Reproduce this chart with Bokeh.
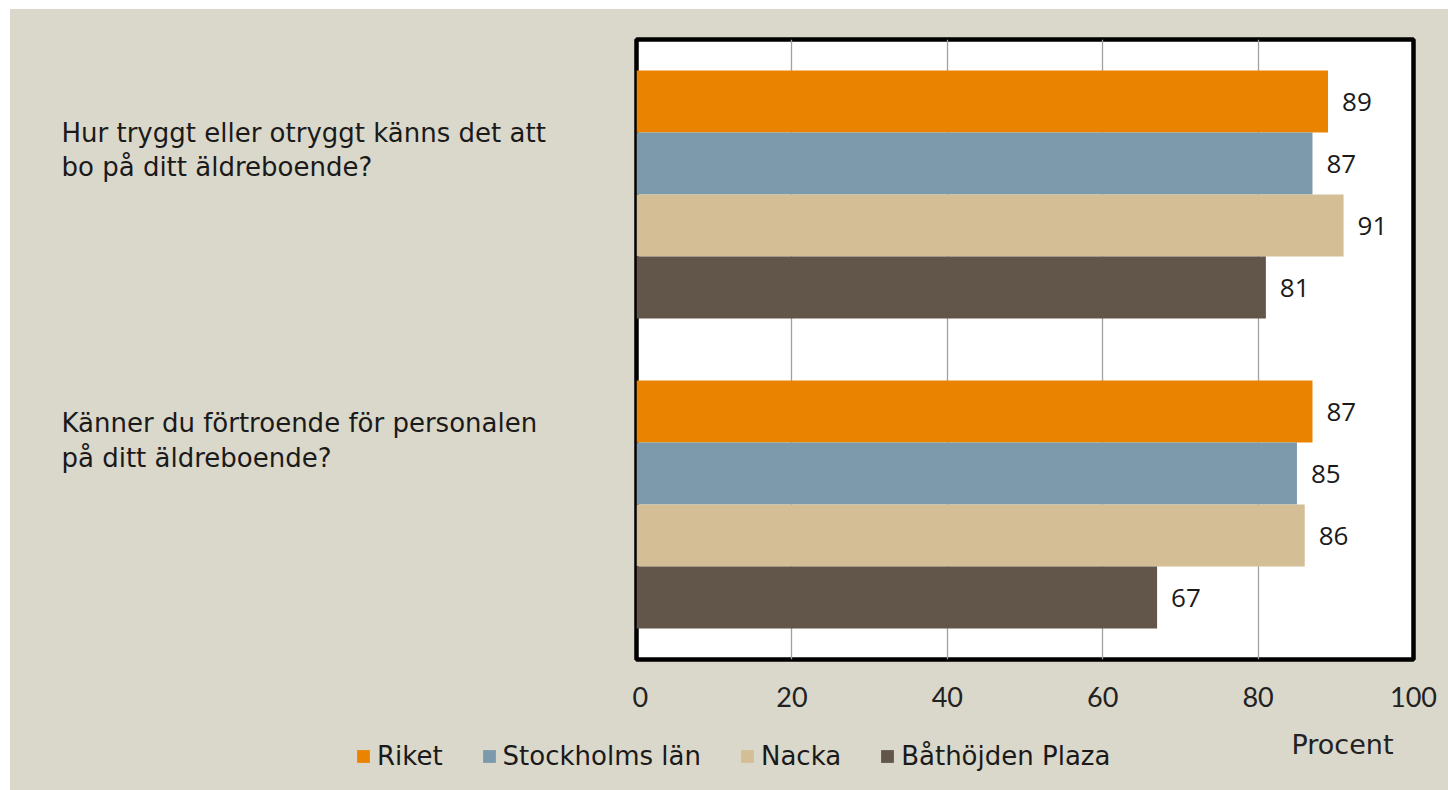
from bokeh.plotting import figure
from bokeh.models import ColumnDataSource, Range1d, FixedTicker
from bokeh.layouts import row, column
from bokeh.core.properties import value
from bokeh.embed import file_html
from bokeh.resources import INLINE

questions = [
    ["Hur tryggt eller otryggt känns det att", "bo på ditt äldreboende?"],
    ["Känner du förtroende för personalen", "på ditt äldreboende?"],
]
series = ["Riket", "Stockholms län", "Nacka", "Båthöjden Plaza"]
riket = [89, 87]
stockholms_lan = [87, 85]
nacka = [91, 86]
bathojden = [81, 67]
x_ticks = [0, 20, 40, 60, 80, 100]
x_title = "Procent"

series_values = [riket, stockholms_lan, nacka, bathojden]
colors = ["#EA8400", "#7D9AAD", "#D4BE95", "#62554A"]

BG = "#DAD7CB"
FONT = "DejaVu Sans"
TICK_FONT = "Lato"
TXT = "#1a1a1a"

MB_TOP, MB_BOT = 30, 61
FRAME_H = 620
TOP_H = MB_TOP + FRAME_H + MB_BOT
MAIN_W = 816
LEFT_W = 622
TOTAL_W = LEFT_W + MAIN_W
BOT_H = 70


def blank_fig(w, h, top=0, bottom=0):
    f = figure(width=w, height=h, output_backend="svg", toolbar_location=None,
               x_range=Range1d(0, w), y_range=Range1d(h - top - bottom, 0),
               min_border_left=0, min_border_right=0,
               min_border_top=top, min_border_bottom=bottom,
               x_axis_location=None, y_axis_location=None)
    f.background_fill_alpha = 0
    f.border_fill_alpha = 0
    f.outline_line_color = None
    f.xgrid.visible = False
    f.ygrid.visible = False
    return f


# ---------- main chart ----------
p = figure(
    width=MAIN_W, height=TOP_H, output_backend="svg", toolbar_location=None,
    x_range=Range1d(0, 100), y_range=Range1d(10, 0),
    min_border_left=4, min_border_right=35, min_border_top=MB_TOP, min_border_bottom=MB_BOT,
)
p.border_fill_alpha = 0
p.background_fill_color = "white"
p.outline_line_color = "black"
p.outline_line_width = 4.5

n_series = len(series)
for s, (name, vals, col) in enumerate(zip(series, series_values, colors)):
    ys = [1 + s + (n_series + 1) * g for g in range(len(vals))]
    src = ColumnDataSource(dict(y=ys, v=vals, lab=[str(v) for v in vals]))
    p.hbar(y="y", left=0, right="v", height=1, source=src, fill_color=col,
           line_color=None)
    p.text(x="v", y="y", text="lab", source=src, x_offset=14,
           text_align="left", text_baseline="middle",
           text_font=value("Open Sans"), text_font_size="26px", text_color=TXT)

p.yaxis.visible = False
xa = p.xaxis[0]
xa.ticker = FixedTicker(ticks=x_ticks)
xa.axis_line_color = None
xa.major_tick_line_color = None
xa.minor_tick_line_color = None
xa.major_label_text_font = TICK_FONT
xa.major_label_text_font_size = "27px"
xa.major_label_text_color = "#222222"
xa.major_label_standoff = 21

p.xgrid.grid_line_color = "#A0A0A0"
p.xgrid.grid_line_width = 1.3
p.xgrid.ticker = FixedTicker(ticks=x_ticks[1:-1])
p.ygrid.grid_line_color = None

# ---------- left: question texts ----------
left = blank_fig(LEFT_W, TOP_H, MB_TOP, MB_BOT)
q_line_y = [[93, 127], [383, 418]]
lx, ly, lt = [], [], []
for q, ys in zip(questions, q_line_y):
    for line, yy in zip(q, ys):
        lx.append(51)
        ly.append(yy)
        lt.append(line)
left.text(x=lx, y=ly, text=lt, text_align="left", text_baseline="middle",
          text_font=value(FONT), text_font_size="26px", text_color=TXT)

# ---------- bottom: legend and axis title ----------
bot = blank_fig(TOTAL_W, BOT_H)
for name, col in zip(series, colors):
    # zero-size swatch carrier for the legend entry
    bot.hbar(y=[0], left=[0], right=[0], height=0, fill_color=col, line_color=None,
             legend_label=name)
bot.text(x=[1332], y=[24], text=[x_title], text_align="center", text_baseline="middle",
         text_font=value(FONT), text_font_size="27px", text_color="#222222")

lg = bot.legend[0]
lg.orientation = "horizontal"
lg.location = (345, 19)
lg.background_fill_alpha = 0
lg.border_line_color = None
lg.padding = 0
lg.margin = 0
lg.spacing = 38
lg.label_standoff = 6
lg.glyph_width = 16
lg.glyph_height = 16
lg.label_text_font = FONT
lg.label_text_font_size = "26px"
lg.label_text_color = TXT

layout = column(row(left, p), bot)
layout.margin = (9, 0, 0, 10)
layout.styles = {"background-color": BG}

open("out.html", "w").write(file_html(layout, INLINE))
